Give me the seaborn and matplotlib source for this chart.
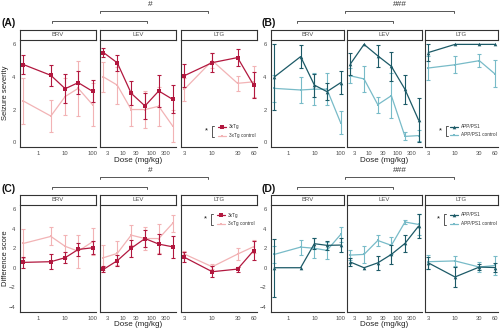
import numpy as np
import pandas as pd
import matplotlib
matplotlib.use("Agg")
import matplotlib.pyplot as plt
from matplotlib.lines import Line2D
from matplotlib.ticker import NullLocator
import seaborn as sns

# ---------------- data ----------------
drugs = ["BRV", "LEV", "LTG"]
doses_BRV = [0.3, 3, 10, 30, 100]
doses_LEV = [2.2, 6.6, 20, 60, 180, 540]
doses_LTG = [3, 10, 30, 60]
ticks_BRV = [1, 10, 100]
ticks_LEV = [3, 10, 30, 100, 300]
ticks_LTG = [3, 10, 30, 60]

# (A) 3xTg seizure severity
A_BRV_main = [4.76, 4.10, 3.28, 3.65, 3.12]
A_BRV_main_err = [0.60, 0.65, 0.90, 0.70, 0.68]
A_BRV_ctl = [2.52, 1.60, 2.80, 3.30, 2.30]
A_BRV_ctl_err = [1.40, 1.00, 1.15, 1.70, 1.30]
A_LEV_main = [5.50, 4.87, 3.00, 2.22, 3.14, 2.63]
A_LEV_main_err = [0.25, 0.48, 0.75, 0.80, 1.00, 0.87]
A_LEV_ctl = [4.00, 3.50, 2.00, 2.00, 2.20, 1.00]
A_LEV_ctl_err = [0.92, 1.13, 1.00, 1.13, 1.20, 1.00]
A_LTG_main = [4.08, 4.88, 5.19, 3.51]
A_LTG_main_err = [0.70, 0.57, 0.53, 0.79]
A_LTG_ctl = [3.25, 5.00, 3.61, 3.70]
A_LTG_ctl_err = [0.70, 0.45, 0.46, 0.95]

# (B) APP/PS1 seizure severity
B_BRV_main = [4.00, 5.25, 3.50, 3.10, 3.65]
B_BRV_main_err = [2.00, 0.72, 0.70, 0.52, 0.70]
B_BRV_ctl = [3.30, 3.20, 3.25, 3.25, 1.18]
B_BRV_ctl_err = [0.85, 0.78, 1.00, 1.00, 0.70]
B_LEV_main = [4.80, 6.00, 5.30, 4.65, 3.24, 1.35]
B_LEV_main_err = [0.70, 0.00, 0.67, 0.87, 0.90, 1.35]
B_LEV_ctl = [4.07, 3.88, 2.30, 2.85, 0.35, 0.40]
B_LEV_ctl_err = [0.47, 0.78, 0.50, 1.40, 0.25, 0.35]
B_LTG_main = [5.50, 6.00, 6.00, 6.00]
B_LTG_main_err = [0.50, 0.00, 0.00, 0.00]
B_LTG_ctl = [4.55, 4.75, 5.00, 4.20]
B_LTG_ctl_err = [0.72, 0.52, 0.40, 0.82]

# (C) 3xTg difference score
C_BRV_main = [0.55, 0.62, 1.03, 1.88, 2.05]
C_BRV_main_err = [0.57, 0.77, 0.57, 0.65, 0.68]
C_BRV_ctl = [2.50, 3.22, 2.20, 1.70, 2.67]
C_BRV_ctl_err = [1.45, 0.92, 1.15, 1.68, 1.37]
C_LEV_main = [-0.17, 0.72, 2.00, 3.00, 2.43, 2.15]
C_LEV_main_err = [0.30, 0.55, 0.85, 0.90, 1.00, 1.10]
C_LEV_ctl = [1.03, 1.47, 3.35, 3.00, 3.00, 4.55]
C_LEV_ctl_err = [1.28, 1.23, 1.03, 1.20, 1.45, 0.88]
C_LTG_main = [1.07, -0.41, -0.14, 1.75]
C_LTG_main_err = [0.50, 0.58, 0.25, 1.00]
C_LTG_ctl = [1.40, 0.10, 1.40, 2.16]
C_LTG_ctl_err = [0.35, 0.25, 0.60, 0.65]

# (D) APP/PS1 difference score
D_BRV_main = [0.00, 0.00, 2.47, 2.30, 2.33]
D_BRV_main_err = [3.00, 0.00, 0.55, 0.45, 0.68]
D_BRV_ctl = [1.37, 2.12, 2.00, 1.78, 3.42]
D_BRV_ctl_err = [0.85, 0.78, 1.03, 0.85, 0.75]
D_LEV_main = [0.58, 0.00, 0.50, 1.37, 2.50, 4.28]
D_LEV_main_err = [0.43, 0.00, 0.72, 0.95, 0.85, 1.20]
D_LEV_ctl = [1.30, 1.37, 2.80, 2.30, 4.70, 4.45]
D_LEV_ctl_err = [0.50, 0.85, 0.55, 0.85, 0.25, 1.10]
D_LTG_main = [0.50, -0.95, 0.07, 0.02]
D_LTG_main_err = [0.60, 1.00, 0.30, 0.50]
D_LTG_ctl = [0.62, 0.70, 0.07, 0.23]
D_LTG_ctl_err = [0.70, 0.50, 0.55, 0.95]

labels_3xTg = ["3xTg", "3xTg control"]
labels_APP = ["APP/PS1", "APP/PS1 control"]
sig_AB = ["#", "###"]

# ---------------- styling ----------------
sns.set_style("white")
plt.rcParams["font.family"] = ["Liberation Sans", "DejaVu Sans"]

RED, PINK = "#B2183F", "#F2B3B5"
TEAL, LTEAL = "#1C5A67", "#78BBC8"
AX_COL = "#333333"
TXT_COL = "#4D4D4D"

W, H = 500, 330
fig = plt.figure(figsize=(W / 100, H / 100), dpi=100)


def fx(x):
    return x / W


def fy(y):
    return 1 - y / H


def add_ax(x0, x1, y0, y1):
    return fig.add_axes([fx(x0), fy(y1), (x1 - x0) / W, (y1 - y0) / H])


doses = {"BRV": doses_BRV, "LEV": doses_LEV, "LTG": doses_LTG}
xticks = {"BRV": ticks_BRV, "LEV": ticks_LEV, "LTG": ticks_LTG}

panels = {
    "A": dict(data={"BRV": (A_BRV_main, A_BRV_main_err, A_BRV_ctl, A_BRV_ctl_err),
                    "LEV": (A_LEV_main, A_LEV_main_err, A_LEV_ctl, A_LEV_ctl_err),
                    "LTG": (A_LTG_main, A_LTG_main_err, A_LTG_ctl, A_LTG_ctl_err)},
              cols=[(20, 96), (100, 176), (181, 257)], rows=(39.5, 147), strip=(29.5, 39.5),
              ylim=(-0.3, 6.3), yticks=[0, 2, 4, 6], colors=(RED, PINK), marker="s",
              labels=labels_3xTg, ylabel="Seizure severity"),
    "B": dict(data={"BRV": (B_BRV_main, B_BRV_main_err, B_BRV_ctl, B_BRV_ctl_err),
                    "LEV": (B_LEV_main, B_LEV_main_err, B_LEV_ctl, B_LEV_ctl_err),
                    "LTG": (B_LTG_main, B_LTG_main_err, B_LTG_ctl, B_LTG_ctl_err)},
              cols=[(271, 344), (347, 422), (425, 498)], rows=(39.5, 147), strip=(29.5, 39.5),
              ylim=(-0.3, 6.3), yticks=[0, 2, 4, 6], colors=(TEAL, LTEAL), marker="^",
              labels=labels_APP, ylabel=None),
    "C": dict(data={"BRV": (C_BRV_main, C_BRV_main_err, C_BRV_ctl, C_BRV_ctl_err),
                    "LEV": (C_LEV_main, C_LEV_main_err, C_LEV_ctl, C_LEV_ctl_err),
                    "LTG": (C_LTG_main, C_LTG_main_err, C_LTG_ctl, C_LTG_ctl_err)},
              cols=[(20, 96), (100, 176), (181, 257)], rows=(204.5, 311.5), strip=(194.5, 204.5),
              ylim=(-4.5, 6.5), yticks=[-4, -2, 0, 2, 4, 6], colors=(RED, PINK), marker="s",
              labels=labels_3xTg, ylabel="Difference score"),
    "D": dict(data={"BRV": (D_BRV_main, D_BRV_main_err, D_BRV_ctl, D_BRV_ctl_err),
                    "LEV": (D_LEV_main, D_LEV_main_err, D_LEV_ctl, D_LEV_ctl_err),
                    "LTG": (D_LTG_main, D_LTG_main_err, D_LTG_ctl, D_LTG_ctl_err)},
              cols=[(271, 344), (347, 422), (425, 498)], rows=(204.5, 311.5), strip=(194.5, 204.5),
              ylim=(-4.5, 6.5), yticks=[-4, -2, 0, 2, 4, 6], colors=(TEAL, LTEAL), marker="^",
              labels=labels_APP, ylabel=None),
}

for pname, P in panels.items():
    main_col, ctl_col = P["colors"]
    for i, drug in enumerate(drugs):
        x0, x1 = P["cols"][i]
        y0, y1 = P["rows"]
        ax = add_ax(x0, x1, y0, y1)
        m, me, c, ce = P["data"][drug]
        d = doses[drug]
        df = pd.DataFrame({
            "dose": list(d) * 2,
            "value": list(c) + list(m),
            "err": list(ce) + list(me),
            "group": [P["labels"][1]] * len(d) + [P["labels"][0]] * len(d),
        })
        ax.set_xscale("log")
        for grp, col, mk, ms, z in [(P["labels"][1], ctl_col, "s", 1.6, 2),
                                     (P["labels"][0], main_col, P["marker"], 2.6, 3)]:
            sub = df[df["group"] == grp]
            sns.lineplot(data=sub, x="dose", y="value", color=col, marker=mk,
                         markersize=ms, markeredgewidth=0, linewidth=0.9,
                         estimator=None, ax=ax, legend=False, zorder=z)
            eb = sub[sub["err"] > 0]
            ax.errorbar(eb["dose"], eb["value"], yerr=eb["err"], fmt="none",
                        ecolor=col, elinewidth=0.8, capsize=1.6, capthick=0.8, zorder=z)
        lo, hi = np.log10(min(d)), np.log10(max(d))
        pad = (hi - lo) * 0.05
        ax.set_xlim(10 ** (lo - pad), 10 ** (hi + pad))
        ax.set_ylim(*P["ylim"])
        ax.set_xticks(xticks[drug])
        ax.set_xticklabels([str(t) for t in xticks[drug]])
        ax.xaxis.set_minor_locator(NullLocator())
        ax.set_yticks(P["yticks"])
        ax.set_xlabel("")
        ax.set_ylabel("")
        for s in ["top", "right"]:
            ax.spines[s].set_visible(False)
        for s in ["left", "bottom"]:
            ax.spines[s].set_color(AX_COL)
            ax.spines[s].set_linewidth(0.8)
        ax.tick_params(axis="both", length=2, width=0.5, color=AX_COL,
                       labelsize=4.2, labelcolor=TXT_COL, pad=1.2)
        if i > 0:
            ax.tick_params(axis="y", left=False, labelleft=False)
        ax.set_facecolor("none")
        # strip
        s0, s1 = P["strip"]
        sax = add_ax(x0, x1, s0, s1)
        sax.set_xticks([])
        sax.set_yticks([])
        for s in sax.spines.values():
            s.set_color(AX_COL)
            s.set_linewidth(0.8)
        sax.text(0.5, 0.5, drug, ha="center", va="center", fontsize=4.3, color=TXT_COL,
                 transform=sax.transAxes)

    # axis titles
    xc = (P["cols"][0][0] + P["cols"][2][1]) / 2
    ylab_y = P["rows"][1] + 13
    fig.text(fx(xc), fy(ylab_y), "Dose (mg/kg)", ha="center", va="center",
             fontsize=5.8, color="#222222")
    if P["ylabel"]:
        fig.text(fx(5.5), fy((P["rows"][0] + P["rows"][1]) / 2), P["ylabel"], rotation=90,
                 ha="center", va="center", fontsize=5.5, color="#222222")

# panel letters
for lab, (x, y) in {"(A)": (2, 23.5), "(B)": (262, 23.5), "(C)": (2, 188.5), "(D)": (262, 188.5)}.items():
    fig.text(fx(x), fy(y), lab, ha="left", va="center", fontsize=7.5, fontweight="bold",
             color="#111111")


def bracket(xa, xb, y, drop=2.6):
    fig.add_artist(Line2D([fx(xa), fx(xa), fx(xb), fx(xb)],
                          [fy(y + drop), fy(y), fy(y), fy(y + drop)],
                          color="#555555", lw=0.7))


# significance brackets
for yoff in (0, 166):
    bracket(52, 147, 20.7 + yoff)
    bracket(100, 208, 10.8 + yoff)
    bracket(297, 393, 20.7 + yoff)
    bracket(345, 454, 10.8 + yoff)
    fig.text(fx(150), fy(4.5 + yoff), sig_AB[0], ha="center", va="center", fontsize=6, color="#333333")
    fig.text(fx(400), fy(4.5 + yoff), sig_AB[1], ha="center", va="center", fontsize=6, color="#333333")


def legend(xs, y1, y2, lx0, lx1, labels, cols, mk):
    ymid = (y1 + y2) / 2
    fig.text(fx(xs), fy(ymid), "*", ha="center", va="center", fontsize=5.5, color="#111111")
    bx = xs + 6
    fig.add_artist(Line2D([fx(bx + 2), fx(bx), fx(bx), fx(bx + 2)],
                          [fy(y1 - 1.5), fy(y1 - 1.5), fy(y2 + 1.5), fy(y2 + 1.5)],
                          color="#555555", lw=0.7))
    for yy, lab, col, m, ms in [(y1, labels[0], cols[0], mk, 2.6), (y2, labels[1], cols[1], "s", 1.6)]:
        fig.add_artist(Line2D([fx(lx0), fx(lx1)], [fy(yy), fy(yy)], color=col, lw=0.9))
        fig.add_artist(Line2D([fx((lx0 + lx1) / 2)], [fy(yy)], color=col, marker=m,
                              markersize=ms, markeredgewidth=0, lw=0))
        fig.text(fx(lx1 + 3), fy(yy), lab, ha="left", va="center", fontsize=3.4, color="#333333")


legend(206, 127, 135.5, 218, 226, labels_3xTg, (RED, PINK), "s")
legend(440, 127, 134.5, 450, 458, labels_APP, (TEAL, LTEAL), "^")
legend(205, 215, 223.5, 217, 225, labels_3xTg, (RED, PINK), "s")
legend(438, 215, 223.5, 450, 458, labels_APP, (TEAL, LTEAL), "^")

fig.savefig("out.png", dpi=100)
